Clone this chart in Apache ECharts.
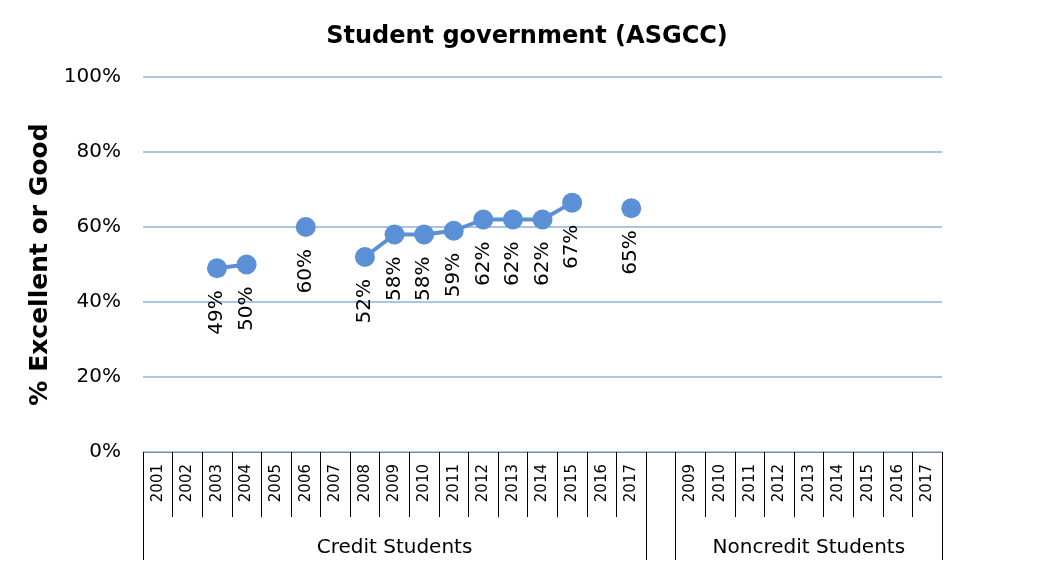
<!DOCTYPE html>
<html><head><meta charset="utf-8">
<script src="https://cdn.jsdelivr.net/npm/echarts@6/dist/echarts.min.js"></script>
<style>html,body{margin:0;padding:0;background:#fff}#c{width:1054px;height:575px}</style>
</head><body><div id="c"></div>
<script>
const years = ['2001','2002','2003','2004','2005','2006','2007','2008','2009','2010','2011','2012','2013','2014','2015','2016','2017','','2009','2010','2011','2012','2013','2014','2015','2016','2017'];
const groups = ['Credit Students','Noncredit Students'];
const groupStart = [0, 18];
const groupSize = [17, 9];
const values = [null,null,49,50,null,60,null,52,58,58,59,62,62,62,66.5,null,65,null,null,null,null,null,null,null,null,null,null];
const labelsPct = [null,null,'49%','50%',null,'60%',null,'52%','58%','58%','59%','62%','62%','62%','67%',null,'65%',null,null,null,null,null,null,null,null,null,null];
const yTicks = [0,20,40,60,80,100];

const groupCats = years.map((_, i) => {
  for (let g = 0; g < groups.length; g++) {
    if (i === groupStart[g] + Math.floor(groupSize[g] / 2)) return groups[g];
  }
  return '';
});
const boundaries = new Set([0, 17, 18, 27]);
const font = 'DejaVu Sans';
const chart = echarts.init(document.getElementById('c'));
chart.setOption({
  animation: false,
  textStyle: {fontFamily: font},
  title: {text: 'Student government (ASGCC)', left: 'center', top: 20,
    textStyle: {fontFamily: font, fontSize: 24, fontWeight: 'bold', color: '#000'}},
  grid: {left: 143, right: 112, top: 77, bottom: 123},
  yAxis: {type: 'value', min: 0, max: 100, interval: 20,
    name: '% Excellent or Good', nameLocation: 'middle', nameGap: 90, nameRotate: 90,
    nameTextStyle: {fontFamily: font, fontSize: 25, fontWeight: 'bold', color: '#000'},
    axisLabel: {formatter: v => v + '%', fontSize: 20, color: '#000', margin: 22, fontFamily: font},
    axisLine: {show: false}, axisTick: {show: false},
    splitLine: {lineStyle: {color: '#8db3df', width: 1.5}}},
  xAxis: [
    {type: 'category', data: years, position: 'bottom',
      axisLine: {show: true, lineStyle: {color: '#888'}},
      axisTick: {show: true, length: 65, interval: 0, lineStyle: {color: '#000'}},
      axisLabel: {rotate: 90, interval: 0, fontSize: 15, color: '#000', margin: 12, fontFamily: font}},
    {type: 'category', data: groupCats, position: 'bottom',
      axisLine: {show: false},
      axisTick: {show: true, length: 108, interval: (i) => boundaries.has(i), lineStyle: {color: '#000'}},
      axisLabel: {interval: 0, fontSize: 20, color: '#000', margin: 86, fontFamily: font}}
  ],
  series: [{
    type: 'line', xAxisIndex: 0, data: values, connectNulls: false,
    symbol: 'circle', symbolSize: 20,
    itemStyle: {color: '#5b8fd6'}, lineStyle: {color: '#5b8fd6', width: 4},
    label: {show: true, position: 'bottom', rotate: 90, align: 'right', verticalAlign: 'middle',
      distance: 12, fontSize: 20, color: '#000', fontFamily: font,
      formatter: p => labelsPct[p.dataIndex] || ''}
  }]
});
</script></body></html>
